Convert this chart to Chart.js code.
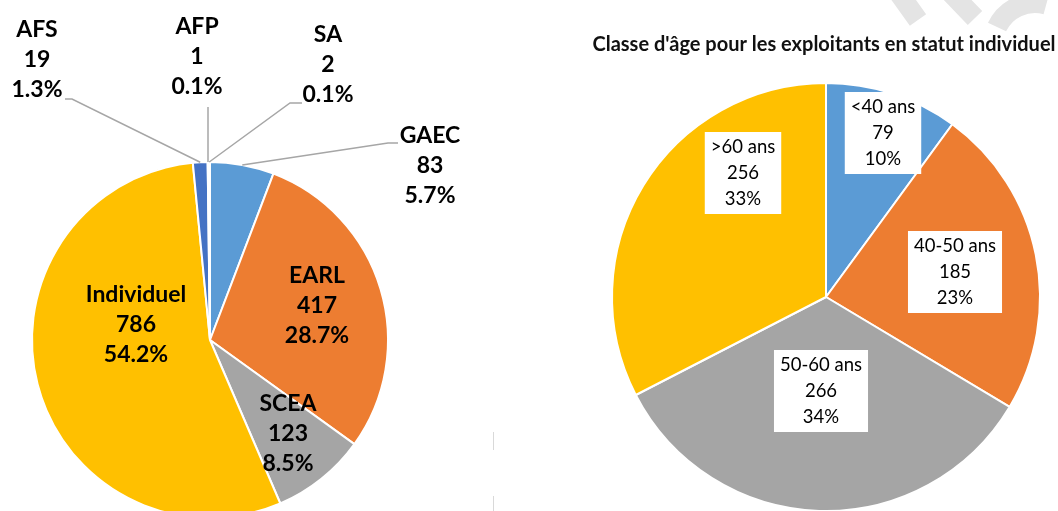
<!DOCTYPE html>
<html>
<head>
<meta charset="utf-8">
<script src="https://cdn.jsdelivr.net/npm/chart.js@4.4.1/dist/chart.umd.min.js"></script>
<style>
html,body{margin:0;padding:0;background:#fff;overflow:hidden;width:1058px;height:511px}
#left{position:absolute;left:0;top:0}
#right{position:absolute;left:540px;top:0}
</style>
</head>
<body>
<canvas id="left" width="500" height="530"></canvas>
<canvas id="right" width="518" height="520"></canvas>
<script>
// statut juridique
const statuts = ["GAEC","EARL","SCEA","Individuel","AFS","AFP","SA"]
const statutValues = [83,417,123,786,19,1,2]
const statutPct = ["5.7%","28.7%","8.5%","54.2%","1.3%","0.1%","0.1%"]
const statutColors = ["#5B9BD5","#ED7D31","#A5A5A5","#FFC000","#4472C4","#70AD47","#255E91"]

// classes d'age
const ages = ["<40 ans","40-50 ans","50-60 ans",">60 ans"]
const ageValues = [79,185,266,256]
const agePct = ["10%","23%","34%","33%"]
const ageColors = ["#5B9BD5","#ED7D31","#A5A5A5","#FFC000"]
const ageTitle = "Classe d'âge pour les exploitants en statut individuel"

// label placement (offsets from pie centre, px)
const statutLabelPos = [[220,-174],[107,-34],[78,94],[-74,-15],[-173,-280],[-13,-283],[118,-275]]
// leader lines: [start, elbow], null when the label sits inside the slice
const statutLeaders = [[[188,-197],[178,-197]],null,null,null,[[-145,-241],[-138,-241]],[[-2,-233],[-2,-233]],[[92,-237],[80,-237]]]
const ageLabelPos = [[57,-164],[129,-25],[-5,94],[-83,-124]]

const statutLabels = {
id:"statutLabels",
afterDraw(chart){
const ctx = chart.ctx
const arcs = chart.getDatasetMeta(0).data
ctx.save()
ctx.strokeStyle = "#A6A6A6"
ctx.lineWidth = 1.5
arcs.forEach((arc,i)=>{
const lead = statutLeaders[i]
if(!lead) return
const p = arc.getProps(["x","y","startAngle","endAngle","outerRadius"])
const mid = (p.startAngle+p.endAngle)/2
ctx.beginPath()
ctx.moveTo(p.x+lead[0][0], p.y+lead[0][1])
ctx.lineTo(p.x+lead[1][0], p.y+lead[1][1])
ctx.lineTo(p.x+Math.cos(mid)*p.outerRadius, p.y+Math.sin(mid)*p.outerRadius)
ctx.stroke()
})
ctx.font = "bold 23px Lato"
ctx.textAlign = "center"
ctx.textBaseline = "middle"
ctx.fillStyle = "#000"
arcs.forEach((arc,i)=>{
const cx = arc.x+statutLabelPos[i][0]
const cy = arc.y+statutLabelPos[i][1]
const lines = [statuts[i], String(statutValues[i]), statutPct[i]]
lines.forEach((t,k)=>ctx.fillText(t, cx, cy+(k-1)*30))
})
// faint separator line between the two charts
ctx.strokeStyle = "#D9D9D9"
ctx.lineWidth = 1
ctx.beginPath()
ctx.moveTo(493.5,432); ctx.lineTo(493.5,450)
ctx.moveTo(493.5,496); ctx.lineTo(493.5,511)
ctx.stroke()
ctx.restore()
}
}

const ageLabels = {
id:"ageLabels",
afterDraw(chart){
const ctx = chart.ctx
const arcs = chart.getDatasetMeta(0).data
ctx.save()
// watermark fragments (top right)
ctx.strokeStyle = "#E4E4E4"
ctx.lineWidth = 20
ctx.beginPath()
ctx.moveTo(358,-8); ctx.lineTo(378,20)
ctx.moveTo(410,-8); ctx.lineTo(435,18)
ctx.stroke()
ctx.beginPath()
ctx.arc(495,45,42,-2.7,-1.3)
ctx.stroke()

// title (drawn by hand so it is not squeezed to the chart width)
ctx.font = "bold 20px Lato"
ctx.textAlign = "center"
ctx.textBaseline = "middle"
ctx.fillStyle = "#111"
ctx.fillText(ageTitle, arcs[0].x-2, 45)

ctx.font = "18.5px Lato"
arcs.forEach((arc,i)=>{
const cx = arc.x+ageLabelPos[i][0]
const cy = arc.y+ageLabelPos[i][1]
const lines = [ages[i], String(ageValues[i]), agePct[i]]
const w = Math.max(...lines.map(t=>ctx.measureText(t).width))+12
const h = 3*26+4
ctx.fillStyle = "#fff"
ctx.fillRect(cx-w/2, cy-h/2, w, h)
ctx.fillStyle = "#000"
lines.forEach((t,k)=>ctx.fillText(t, cx, cy+(k-1)*26))
})
ctx.restore()
}
}

new Chart(document.getElementById("left"),{
type:"pie",
data:{
labels:statuts,
datasets:[{
data:statutValues,
backgroundColor:statutColors,
borderColor:"#fff",
borderWidth:2
}]
},
options:{
responsive:false,
animation:false,
layout:{padding:{left:31,right:111,top:161,bottom:11}},
plugins:{legend:{display:false},tooltip:{enabled:false}}
},
plugins:[statutLabels]
})

new Chart(document.getElementById("right"),{
type:"pie",
data:{
labels:ages,
datasets:[{
data:ageValues,
backgroundColor:ageColors,
borderColor:"#fff",
borderWidth:2
}]
},
options:{
responsive:false,
animation:false,
layout:{padding:{left:71,right:17,top:82,bottom:8}},
plugins:{
legend:{display:false},
tooltip:{enabled:false}
}
},
plugins:[ageLabels]
})
</script>
</body>
</html>
